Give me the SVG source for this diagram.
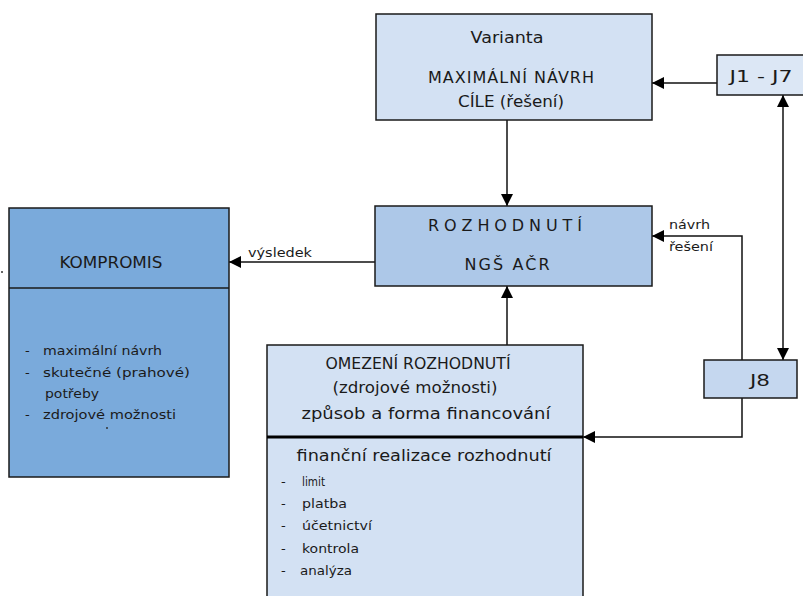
<svg xmlns="http://www.w3.org/2000/svg" width="803" height="596" viewBox="0 0 803 596">
<style>
.box{stroke:#1a1a1a;stroke-width:1.5}
.t{font-family:"DejaVu Sans",sans-serif;fill:#1a1a1a;font-size:16px}
.c{text-anchor:middle}
.s{font-size:13px}
.ln{stroke:#111;stroke-width:1.5;fill:none}
</style>
<defs>
<marker id="a" viewBox="0 0 12 12" refX="12" refY="6" markerWidth="12" markerHeight="12" markerUnits="userSpaceOnUse" orient="auto-start-reverse">
<path d="M0,0 L12,6 L0,12 Z" fill="#000"/>
</marker>
</defs>
<rect width="803" height="596" fill="#fff"/>
<circle cx="2" cy="272" r="1" fill="#333"/>
<g id="connectors">
<line class="ln" x1="507" y1="120" x2="507" y2="206" marker-end="url(#a)"/>
<line class="ln" x1="717" y1="83" x2="652" y2="83" marker-end="url(#a)"/>
<line class="ln" x1="375" y1="262" x2="229" y2="262" marker-end="url(#a)"/>
<line class="ln" x1="507" y1="345" x2="507" y2="286" marker-end="url(#a)"/>
<polyline class="ln" points="742,360 742,236 652,236" marker-end="url(#a)"/>
<polyline class="ln" points="742,398 742,437 583,437" marker-end="url(#a)"/>
<line class="ln" x1="783" y1="95" x2="783" y2="360" marker-start="url(#a)" marker-end="url(#a)"/>
<text class="t s" x="248" y="257" textLength="64" lengthAdjust="spacingAndGlyphs">výsledek</text>
<text class="t s" x="669" y="229" textLength="41" lengthAdjust="spacingAndGlyphs">návrh</text>
<text class="t s" x="669" y="251" textLength="44" lengthAdjust="spacingAndGlyphs">řešení</text>
</g>
<g id="varianta">
<rect class="box" x="376" y="14" width="276" height="106" fill="#d3e1f3"/>
<text class="t c" x="507" y="43" textLength="73" lengthAdjust="spacingAndGlyphs">Varianta</text>
<text class="t c" x="511" y="83" textLength="166">MAXIMÁLNÍ NÁVRH</text>
<text class="t c" x="511" y="107" textLength="106" lengthAdjust="spacingAndGlyphs">CÍLE (řešení)</text>
</g>
<g id="j1j7">
<rect class="box" x="717" y="55" width="90" height="40" fill="#dce7f5"/>
<text class="t c" x="761" y="82" textLength="63" lengthAdjust="spacingAndGlyphs">J1 - J7</text>
</g>
<g id="rozhodnuti">
<rect class="box" x="375" y="206" width="277" height="80" fill="#adc8e8"/>
<text class="t c" x="505" y="231" textLength="154">ROZHODNUTÍ</text>
<text class="t c" x="507" y="270" textLength="85">NGŠ AČR</text>
</g>
<g id="kompromis">
<rect class="box" x="9" y="208" width="220" height="269" fill="#7aaadb"/>
<line class="box" x1="9" y1="288" x2="229" y2="288"/>
<text class="t c" x="111" y="268" textLength="103" lengthAdjust="spacingAndGlyphs">KOMPROMIS</text>
<text class="t s" x="25" y="355">-</text>
<text class="t s" x="43" y="355" textLength="119" lengthAdjust="spacingAndGlyphs">maximální návrh</text>
<text class="t s" x="25" y="377">-</text>
<text class="t s" x="43" y="377" textLength="147" lengthAdjust="spacingAndGlyphs">skutečné (prahové)</text>
<text class="t s" x="45" y="398" textLength="54" lengthAdjust="spacingAndGlyphs">potřeby</text>
<text class="t s" x="25" y="419">-</text>
<text class="t s" x="43" y="419" textLength="133" lengthAdjust="spacingAndGlyphs">zdrojové možnosti</text>
<circle cx="107" cy="428" r="1" fill="#333"/>
</g>
<g id="omezeni">
<rect class="box" x="267" y="345" width="316" height="260" fill="#d3e1f3"/>
<line x1="267" y1="437" x2="583" y2="437" stroke="#000" stroke-width="3"/>
<text class="t c" x="418" y="369" textLength="185" lengthAdjust="spacingAndGlyphs">OMEZENÍ ROZHODNUTÍ</text>
<text class="t c" x="415" y="393" textLength="165" lengthAdjust="spacingAndGlyphs">(zdrojové možnosti)</text>
<text class="t c" x="426" y="419" textLength="249" lengthAdjust="spacingAndGlyphs">způsob a forma financování</text>
<text class="t c" x="424" y="461" textLength="255" lengthAdjust="spacingAndGlyphs">finanční realizace rozhodnutí</text>
<text class="t s" x="281" y="486">-</text>
<text class="t s" x="302" y="486" textLength="23" lengthAdjust="spacingAndGlyphs">limit</text>
<text class="t s" x="281" y="508">-</text>
<text class="t s" x="302" y="508" textLength="45" lengthAdjust="spacingAndGlyphs">platba</text>
<text class="t s" x="281" y="530">-</text>
<text class="t s" x="302" y="530" textLength="70" lengthAdjust="spacingAndGlyphs">účetnictví</text>
<text class="t s" x="281" y="553">-</text>
<text class="t s" x="302" y="553" textLength="57" lengthAdjust="spacingAndGlyphs">kontrola</text>
<text class="t s" x="281" y="575">-</text>
<text class="t s" x="300" y="575" textLength="52" lengthAdjust="spacingAndGlyphs">analýza</text>
</g>
<g id="j8">
<rect class="box" x="704" y="360" width="93" height="38" fill="#c5d7ef"/>
<text class="t c" x="760" y="386" textLength="20" lengthAdjust="spacingAndGlyphs">J8</text>
</g>
</svg>
